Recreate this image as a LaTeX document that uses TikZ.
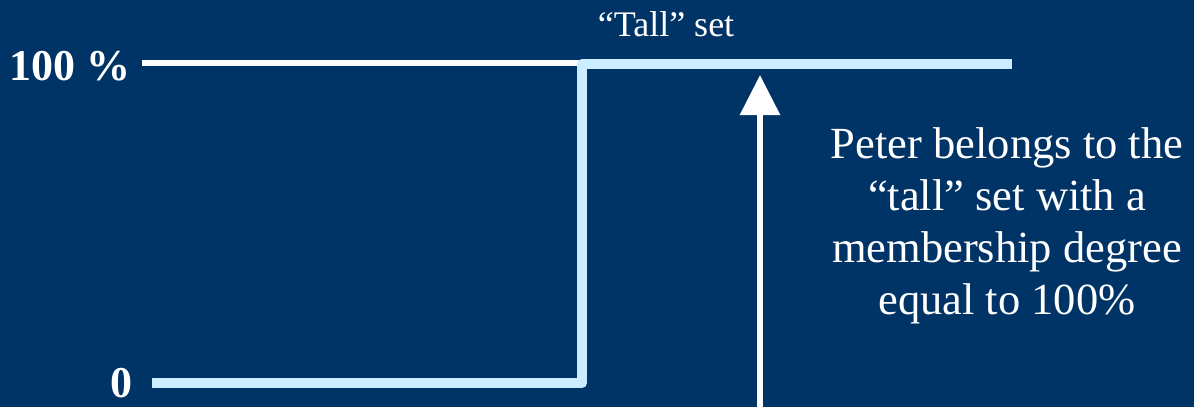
\documentclass[tikz,border=0pt]{standalone}
\usepackage{fontspec}
\setmainfont{Liberation Serif}
\usetikzlibrary{arrows.meta}
\definecolor{navy}{HTML}{003366}
\definecolor{setblue}{HTML}{CCECFF}
\tikzset{
  label100/.style={text=white,inner sep=0pt,font=\bfseries\fontsize{44}{52}\selectfont},
  caption/.style={text=white,inner sep=0pt,font=\fontsize{44.5}{52}\selectfont,align=center},
  setname/.style={text=white,inner sep=0pt,font=\fontsize{36}{40}\selectfont},
  crispline/.style={white,line width=6pt},
  setline/.style={setblue,line width=10pt,line join=round},
  pointer/.style={white,line width=6pt,-{Triangle[width=39pt,length=40pt]}}
}
\begin{document}
\begin{tikzpicture}[x=1pt,y=-1pt]
  \fill[navy] (0,0) rectangle (1194,407);
  \useasboundingbox (0,0) rectangle (1194,407);

  % axis labels
  \node[label100,anchor=base] (full) at (70,80) {100 \%};
  \node[label100,anchor=base] (zero) at (121,397) {0};
  \node[setname,anchor=base] (tall) at (666,36) {“Tall” set};

  % crisp step membership function
  \coordinate (topL) at (142,63);
  \coordinate (topM) at (579,63);
  \coordinate (s0) at (152,383);
  \coordinate (s1) at (582,383);
  \coordinate (s2) at (582,64);
  \coordinate (s3) at (1012,64);
  \draw[crispline] (topL) -- (topM);
  \draw[setline] (s0) -- (s1) -- (s2) -- (s3);

  % Peter's height
  \coordinate (peterBase) at (760,410);
  \coordinate (peterTip) at (760,75);
  \draw[pointer] (peterBase) -- (peterTip);

  \node[caption,anchor=north] (note) at (1007,127)
    {Peter belongs to the\\“tall” set with a\\membership degree\\equal to 100\%};
\end{tikzpicture}
\end{document}
